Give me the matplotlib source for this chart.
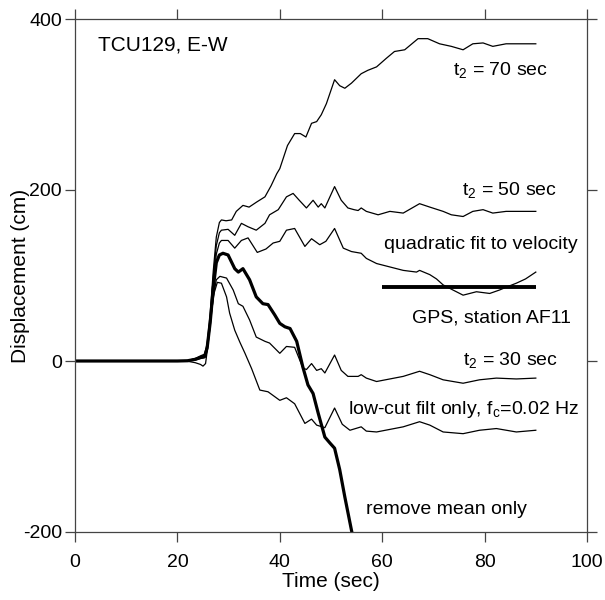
import matplotlib
matplotlib.use("Agg")
import matplotlib.pyplot as plt

plt.rcParams['font.family'] = ['Liberation Sans', 'DejaVu Sans']
plt.rcParams['mathtext.default'] = 'regular'
plt.rcParams['axes.unicode_minus'] = False

# ---- data ----
t70 = [0, 20, 22, 23.5, 24.5, 25.3, 25.8, 26.4, 27.0, 27.6, 28.2, 28.6, 29.5, 30.6, 31.5, 32.8, 34.0, 35.5,
       37.1, 38.3, 39.4, 40.0, 41.5, 42.9, 44.0, 45.1, 46.2, 47.2, 48.1, 49.1, 50.7, 51.7, 52.7, 54.0, 55.9,
       57.2, 58.9, 60.8, 62.4, 64.4, 67.0, 68.9, 71.2, 73.5, 75.8, 77.7, 79.7, 81.6, 84.2, 86.8, 90.0]
d70 = [0, 0, 0.5, 3, 6, 8, 20, 55, 105, 145, 162, 165, 164, 165, 175, 182, 180, 186,
       192, 205, 219, 225, 252, 266, 266, 262, 278, 280, 288, 301, 329, 322, 319, 325, 336,
       340, 344, 354, 362, 364, 377, 377, 371, 368, 364, 371, 372, 368, 371, 371, 371]

t50 = [0, 20, 22, 23.5, 24.5, 25.3, 25.8, 26.4, 27.0, 27.6, 28.2, 28.6, 29.9, 31.2, 32.5, 33.8, 35.4, 37.1,
       38.0, 39.7, 41.3, 42.6, 43.8, 45.2, 46.5, 47.5, 48.1, 48.8, 50.7, 52.0, 53.3, 54.5, 55.3, 55.9, 56.9,
       59.2, 61.5, 64.1, 67.3, 69.3, 71.9, 73.5, 75.8, 77.7, 79.7, 81.6, 84.2, 87.0, 90.0]
d50 = [0, 0, 0.5, 2.5, 5, 7, 18, 50, 98, 135, 150, 153, 154, 147, 161, 157, 153, 161,
       171, 177, 192, 196, 188, 179, 188, 180, 184, 179, 204, 188, 179, 177, 176, 179, 175,
       171, 175, 173, 184, 180, 175, 171, 169, 175, 177, 173, 175, 175, 175]

tq = [0, 20, 22, 23.5, 24.5, 25.3, 25.8, 26.4, 27.0, 27.6, 28.2, 28.6, 29.9, 31.2, 32.5, 33.8, 35.6, 37.3,
      38.7, 40.0, 41.3, 42.9, 44.9, 46.2, 47.8, 49.0, 50.7, 52.4, 54.0, 55.9, 56.9, 58.9, 61.5, 64.1,
      66.7, 67.3, 69.3, 70.6, 71.9, 73.5, 75.8, 78.4, 81.0, 82.9, 84.5, 86.2, 88.0, 90.0]
dq = [0, 0, 0.3, 2, 4, 6, 15, 45, 90, 125, 138, 141, 141, 132, 141, 144, 127, 131,
      138, 140, 153, 155, 134, 143, 136, 140, 155, 132, 128, 126, 120, 114, 110, 106,
      104, 106, 101, 96, 89, 84, 77, 81, 79, 83, 87, 91, 96, 104]

t30 = [0, 20, 22, 23.5, 24.5, 25.3, 25.8, 26.4, 27.0, 27.6, 28.3, 29.6, 30.9, 31.9, 32.8, 34.1, 35.4, 37.1,
       38.0, 40.0, 41.3, 42.9, 44.5, 45.2, 46.2, 47.2, 48.1, 48.8, 50.7, 52.0, 53.3, 55.3, 55.9, 56.9,
       58.9, 61.5, 64.1, 67.3, 69.3, 71.9, 75.8, 79.0, 82.3, 86.2, 90.0]
d30 = [0, 0, 0.2, 1, 3, 4, 12, 40, 75, 95, 99, 97, 83, 67, 64, 48, 28, 23,
       21, 9, 17, 16, -8, -10, -3, -11, -9, -14, 7, -11, -18, -18, -16, -20,
       -24, -21, -18, -12, -16, -22, -26, -22, -20, -21, -20]

tlc = [0, 20, 22, 23.5, 24.5, 25.0, 25.5, 26.0, 26.6, 27.2, 27.8, 28.6, 29.6, 30.2, 31.2, 32.2, 33.2, 34.5,
       36.1, 37.7, 40.0, 41.3, 42.9, 44.9, 46.2, 47.2, 48.8, 50.7, 52.2, 53.7, 55.9, 56.9, 58.9, 61.5,
       64.1, 67.3, 69.3, 71.9, 75.8, 79.0, 82.3, 86.2, 90.0]
dlc = [0, 0, -0.3, -2, -4, -6, -3, 20, 55, 80, 92, 91, 75, 56, 36, 22, 9, -9,
       -34, -36, -46, -43, -50, -73, -68, -75, -78, -55, -74, -81, -77, -82, -83, -80,
       -77, -71, -75, -83, -85, -81, -79, -83, -81]

trm = [0, 20, 22, 23.5, 24.5, 25.3, 25.8, 26.4, 27.0, 27.6, 28.2, 28.9, 29.9, 31.2, 31.9, 32.8, 34.1, 35.4,
       36.7, 37.7, 39.0, 40.0, 41.0, 42.0, 43.3, 44.5, 45.5, 46.5, 47.5, 48.8, 49.8, 50.7, 51.7, 52.7,
       54.0, 54.5]
drm = [0, 0, 0.3, 2, 4, 5, 15, 45, 85, 115, 124, 126, 124, 108, 104, 108, 95, 75,
       67, 66, 54, 44, 40, 38, 23, -7, -28, -38, -61, -89, -96, -102, -127, -159,
       -198, -212]

gps_t = [60, 90]
gps_d = [87, 87]

labels = ["t$_2$ = 70 sec", "t$_2$ = 50 sec", "quadratic fit to velocity", "GPS, station AF11",
          "t$_2$ = 30 sec", "low-cut filt only, f$_c$=0.02 Hz", "remove mean only"]
label_x = [92.3, 94.2, 98.1, 96.9, 94.3, 98.5, 88.2]
label_y = [340, 200, 136, 50, 1, -57, -174]

# ---- figure ----
fig = plt.figure(figsize=(6.05, 6.0), dpi=100)
ax = fig.add_axes([75/605, 1-532/600, (587-75)/605, (532-19)/600])

thin = dict(color='black', lw=0.9)
ax.plot(t70, d70, **thin)
ax.plot(t50, d50, **thin)
ax.plot(tq, dq, **thin)
ax.plot(t30, d30, **thin)
ax.plot(tlc, dlc, **thin)
ax.plot(trm, drm, color='black', lw=2.3)
ax.plot(gps_t, gps_d, color='black', lw=2.8, solid_capstyle='butt')

for s, x, y in zip(labels, label_x, label_y):
    ax.text(x, y, s, ha='right', va='center', fontsize=14)
ax.text(4.5, 370, "TCU129, E-W", ha='left', va='center', fontsize=15)

ax.set_xlim(0, 100)
ax.set_ylim(-200, 400)
ax.set_xticks([0, 20, 40, 60, 80, 100])
ax.set_yticks([-200, 0, 200, 400])
ax.tick_params(direction='out', length=7.5, width=0.9, color='#444444', labelsize=14,
               top=True, right=True, labeltop=False, labelright=False)
ax.tick_params(axis='x', pad=8)
ax.tick_params(axis='y', pad=2)
for sp in ax.spines.values():
    sp.set_color('#444444')
    sp.set_linewidth(0.9)

ax.set_xlabel("Time (sec)", fontsize=15, labelpad=1)
ax.set_ylabel("Displacement (cm)", fontsize=15, labelpad=-5)

fig.savefig("out.png", dpi=100)
